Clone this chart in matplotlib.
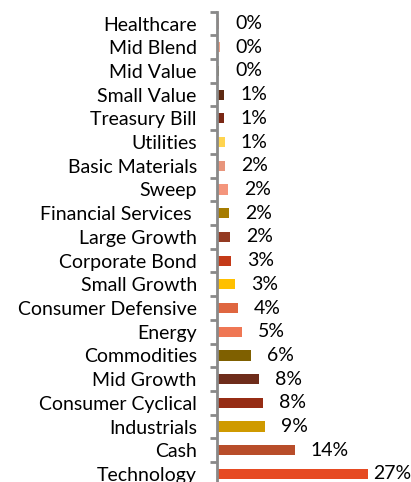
import matplotlib.pyplot as plt

categories = ['Healthcare', 'Mid Blend', 'Mid Value', 'Small Value', 'Treasury Bill',
              'Utilities', 'Basic Materials', 'Sweep', 'Financial Services ',
              'Large Growth', 'Corporate Bond', 'Small Growth', 'Consumer Defensive',
              'Energy', 'Commodities', 'Mid Growth', 'Consumer Cyclical',
              'Industrials', 'Cash', 'Technology']
values = [0.4, 0.45, 0.4, 1.25, 1.25, 1.4, 1.5, 2.0, 2.1, 2.3, 2.5, 3.2, 3.75,
          4.5, 6.1, 7.5, 8.2, 8.6, 13.9, 27.0]
labels = ['0%', '0%', '0%', '1%', '1%', '1%', '2%', '2%', '2%', '2%', '3%', '3%',
          '4%', '5%', '6%', '8%', '8%', '9%', '14%', '27%']
colors = ['#E8A38E', '#F2A58A', '#7A6A1E', '#5E2A12', '#7A2814', '#FFD44F',
          '#E8957C', '#F4957C', '#A67C00', '#943A22', '#C43A18', '#FFC000',
          '#DF6640', '#EF7754', '#7F6000', '#6E2C1A', '#962C14', '#CF9A00',
          '#B84D2A', '#E64A22']

plt.rcParams['font.family'] = ['Lato', 'DejaVu Sans']

W, H = 411, 482
fig = plt.figure(figsize=(W / 100, H / 100), dpi=100)
# axes: left at x=217, top at y=11.65, one row = 23.7 px (bottom row runs past the image)
n = len(categories)
left, top, row = 217, 11.65, 23.71
ax = fig.add_axes([left / W, (H - top - n * row) / H, (W - left) / W, n * row / H])

pos = list(range(n))
ax.barh(pos, values, height=0.43, color=colors)
ax.set_ylim(n - 0.5, -0.5)
xmax = (W - left) / 5.6
ax.set_xlim(0, xmax)

ax.set_yticks(pos)
ax.set_yticklabels(categories, fontsize=14, color='black')
ax.set_yticks([p + 0.5 for p in range(-1, n)], minor=True)
ax.tick_params(axis='y', which='major', length=0, pad=14.5)
ax.tick_params(axis='y', which='minor', length=5, width=2, color='#898989')
ax.set_xticks([])

for s in ['top', 'right', 'bottom']:
    ax.spines[s].set_visible(False)
ax.spines['left'].set_color('#898989')
ax.spines['left'].set_linewidth(2)

for i, (v, lab) in enumerate(zip(values, labels)):
    if v + 2.9 + 7 > xmax:
        ax.text(xmax, i, lab, ha='right', va='center', fontsize=14, clip_on=False)
    else:
        ax.annotate(lab, (v, i), xytext=(11.5, 0), textcoords='offset points',
                    ha='left', va='center', fontsize=14)

fig.savefig('out.png', dpi=100)
